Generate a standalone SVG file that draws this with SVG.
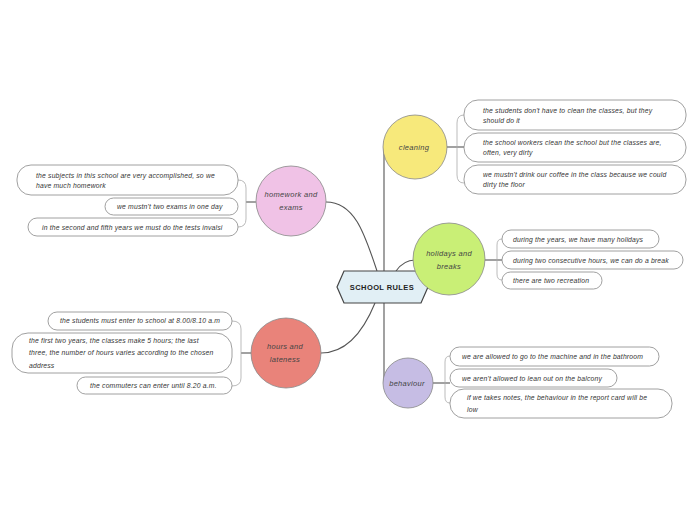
<svg xmlns="http://www.w3.org/2000/svg" width="696" height="520" viewBox="0 0 696 520">
<style>
.leaf{fill:#fff;stroke:#888;stroke-width:0.8}
.lt{font-family:"Liberation Sans",Arial,sans-serif;font-style:italic;font-size:6.8px;fill:#333;letter-spacing:0.18px}
.nt{font-family:"Liberation Sans",Arial,sans-serif;font-style:italic;font-size:7.5px;fill:#444;text-anchor:middle;letter-spacing:0.3px}
.main{fill:none;stroke:#555;stroke-width:1.1}
.br{fill:none;stroke:#aaa;stroke-width:0.8}
.node{stroke:#888;stroke-width:0.8}
</style>
<rect width="696" height="520" fill="#fff"/>
<g id="connectors">
<path class="main" d="M326,202 C355,202 365,235 377,271"/>
<path class="main" d="M321,353 C350,353 366,325 375,303"/>
<path class="main" d="M384,271 L384,147"/>
<path class="main" d="M384,303 L384,383"/>
<path class="main" d="M396,271 C401,264 407,260 415,260"/>
<path class="main" d="M447,147 L465,147"/>
<path class="br" d="M464,115 Q457,115 457,123 L457,175 Q457,183 464,183"/>
<path class="main" d="M485,260 L502,260"/>
<path class="br" d="M502,239 Q497,239 497,245 L497,274 Q497,280 502,280"/>
<path class="main" d="M433,383 L450,383"/>
<path class="br" d="M450,356 Q445,356 445,362 L445,397 Q445,403 450,403"/>
<path class="main" d="M246,202 L256,202"/>
<path class="br" d="M238,180 Q246,180 246,188 L246,219 Q246,227 238,227"/>
<path class="main" d="M241,353 L251,353"/>
<path class="br" d="M232,321 Q241,321 241,329 L241,378 Q241,386 232,386"/>
</g>
<g id="center">
<polygon points="337,287 344,271 421,271 428,287 421,303 344,303" fill="#e1eff5" stroke="#444" stroke-width="1.2"/>
<text x="382" y="290" font-family="Liberation Sans,Arial,sans-serif" font-weight="bold" font-size="7.5" fill="#222" text-anchor="middle" letter-spacing="0.4">SCHOOL RULES</text>
</g>
<g id="cleaning">
<circle class="node" cx="415" cy="147" r="32" fill="#f7e97b"/>
<text class="nt" x="414" y="149.5">cleaning</text>
</g>
<g id="holidays">
<circle class="node" cx="449" cy="259" r="36" fill="#c9ef76"/>
<text class="nt" x="449" y="255.5">holidays and</text>
<text class="nt" x="449" y="268.5">breaks</text>
</g>
<g id="behaviour">
<circle class="node" cx="408" cy="383" r="25" fill="#c6bde4"/>
<text class="nt" x="407" y="385.5">behaviour</text>
</g>
<g id="homework">
<circle class="node" cx="291" cy="201" r="35" fill="#f0c2e6"/>
<text class="nt" x="291" y="196.5">homework and</text>
<text class="nt" x="291" y="209.5">exams</text>
</g>
<g id="hours">
<circle class="node" cx="286" cy="353" r="35" fill="#e9837a"/>
<text class="nt" x="285" y="348.5">hours and</text>
<text class="nt" x="285" y="361.5">lateness</text>
</g>
<g id="cleaning-1">
<rect class="leaf" x="464" y="100" width="222" height="30" rx="14"/>
<text class="lt" x="483" y="112.5">the students don't have to clean the classes, but they</text>
<text class="lt" x="483" y="122.5">should do it</text>
</g>
<g id="cleaning-2">
<rect class="leaf" x="464" y="133" width="222" height="29" rx="14"/>
<text class="lt" x="483" y="144.5">the school workers clean the school but the classes are,</text>
<text class="lt" x="483" y="154.5">often, very dirty</text>
</g>
<g id="cleaning-3">
<rect class="leaf" x="464" y="165" width="222" height="29" rx="14"/>
<text class="lt" x="483" y="176.5">we mustn't drink our coffee in the class because we could</text>
<text class="lt" x="483" y="186.5">dirty the floor</text>
</g>
<g id="holidays-1">
<rect class="leaf" x="502" y="230" width="157" height="18" rx="9"/>
<text class="lt" x="513" y="241.5">during the years, we have many holidays</text>
</g>
<g id="holidays-2">
<rect class="leaf" x="502" y="251" width="181" height="18" rx="9"/>
<text class="lt" x="513" y="262.5">during two consecutive hours, we can do a break</text>
</g>
<g id="holidays-3">
<rect class="leaf" x="502" y="272" width="100" height="17" rx="8.5"/>
<text class="lt" x="513" y="283">there are two recreation</text>
</g>
<g id="behaviour-1">
<rect class="leaf" x="450" y="347" width="209" height="19" rx="9.5"/>
<text class="lt" x="462" y="359">we are allowed to go to the machine and in the bathroom</text>
</g>
<g id="behaviour-2">
<rect class="leaf" x="450" y="369" width="167" height="18" rx="9"/>
<text class="lt" x="462" y="380.5">we aren't allowed to lean out on the balcony</text>
</g>
<g id="behaviour-3">
<rect class="leaf" x="450" y="389" width="222" height="29" rx="14"/>
<text class="lt" x="467" y="399.5">if we takes notes, the behaviour in the report card will be</text>
<text class="lt" x="467" y="412">low</text>
</g>
<g id="homework-1">
<rect class="leaf" x="17" y="165" width="221" height="30" rx="14"/>
<text class="lt" x="36" y="177.5">the subjects in this school are very accomplished, so we</text>
<text class="lt" x="36" y="188">have much homework</text>
</g>
<g id="homework-2">
<rect class="leaf" x="105" y="198" width="133" height="17" rx="8.5"/>
<text class="lt" x="117" y="209">we mustn't two exams in one day</text>
</g>
<g id="homework-3">
<rect class="leaf" x="28" y="218" width="210" height="18" rx="9"/>
<text class="lt" x="42" y="229.5">in the second and fifth years we must do the tests invalsi</text>
</g>
<g id="hours-1">
<rect class="leaf" x="48" y="312" width="184" height="18" rx="9"/>
<text class="lt" x="60" y="323">the students must enter to school at 8.00/8.10 a.m</text>
</g>
<g id="hours-2">
<rect class="leaf" x="12" y="333" width="220" height="40" rx="16"/>
<text class="lt" x="29" y="342.5">the first two years, the classes make 5 hours; the last</text>
<text class="lt" x="29" y="355">three, the number of hours varies according to the chosen</text>
<text class="lt" x="29" y="367.5">address</text>
</g>
<g id="hours-3">
<rect class="leaf" x="77" y="377" width="155" height="17" rx="8.5"/>
<text class="lt" x="90" y="388">the commuters can enter until 8.20 a.m.</text>
</g>
</svg>
